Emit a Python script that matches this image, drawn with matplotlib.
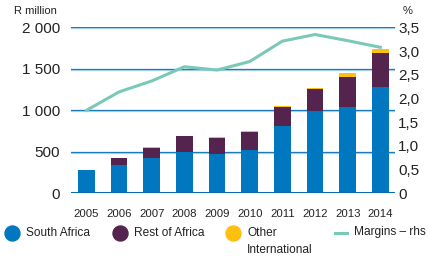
import numpy as np
import matplotlib.pyplot as plt
from matplotlib.lines import Line2D

plt.rcParams['font.family'] = ['Liberation Sans', 'DejaVu Sans']

years = ['2005', '2006', '2007', '2008', '2009', '2010', '2011', '2012', '2013', '2014']
south_africa = [280, 340, 425, 495, 477, 522, 811, 990, 1039, 1280]
rest_of_africa = [0, 85, 125, 195, 193, 216, 229, 266, 361, 414]
other_intl = [5, 5, 5, 0, 10, 12, 10, 12, 50, 44]
margins = [1.75, 2.14, 2.37, 2.67, 2.60, 2.78, 3.21, 3.35, 3.22, 3.08]

left_ticks = [0, 500, 1000, 1500, 2000]
left_labels = ['0', '500', '1 000', '1 500', '2 000']
right_ticks = [0, 0.5, 1.0, 1.5, 2.0, 2.5, 3.0, 3.5]
right_labels = ['0', '0,5', '1,0', '1,5', '2,0', '2,5', '3,0', '3,5']

c_sa = '#0077be'
c_roa = '#55244e'
c_oth = '#fdc010'
c_mar = '#7ac9b7'
c_grid = '#0a6db3'
c_grid2 = '#9fcdeb'

fig = plt.figure(figsize=(4.29, 2.56), dpi=100)
ax = fig.add_axes([0.1655, 0.245, 0.756, 0.648])
x = np.arange(len(years))

# grid lines: dark line with a light line just below
for t in left_ticks[1:]:
    ax.axhline(t, color=c_grid, lw=0.9, zorder=1)
    ax.axhline(t - 9, color=c_grid2, lw=0.9, zorder=1)
ax.axhline(0, color=c_grid, lw=2.2, zorder=4)

w = 0.51
ax.bar(x, south_africa, w, color=c_sa, zorder=2)
ax.bar(x, rest_of_africa, w, bottom=south_africa, color=c_roa, zorder=2)
bot2 = np.array(south_africa) + np.array(rest_of_africa)
ax.bar(x, other_intl, w, bottom=bot2, color=c_oth, zorder=2)

ax.set_xlim(-0.475, 9.46)
ax.set_ylim(0, 2000)
ax.set_yticks(left_ticks)
ax.set_yticklabels(left_labels, fontsize=11, color='#222222')
ax.set_xticks(x)
ax.set_xticklabels(years, fontsize=8.2, color='#222222')
ax.tick_params(axis='both', length=0)
ax.tick_params(axis='y', pad=8)
ax.tick_params(axis='x', pad=11)
for s in ax.spines.values():
    s.set_visible(False)

ax2 = ax.twinx()
ax2.plot(x, margins, color=c_mar, lw=2.2, zorder=3)
ax2.set_ylim(0, 3.5)
ax2.set_yticks(right_ticks)
ax2.set_yticklabels(right_labels, fontsize=11, color='#222222')
ax2.tick_params(axis='y', length=0, pad=2)
for s in ax2.spines.values():
    s.set_visible(False)
ax2.set_xlim(-0.475, 9.46)

fig.text(14 / 429, 1 - 11 / 256, 'R million', fontsize=8, color='#222222', va='center', ha='left')
fig.text(403 / 429, 1 - 11 / 256, '%', fontsize=8, color='#222222', va='center', ha='left')

# legend
ly = 1 - 232.5 / 256
fs = 8.6
items = [(12, c_sa, 'South Africa'), (120, c_roa, 'Rest of Africa'), (233, c_oth, 'Other')]
for px, col, lab in items:
    fig.add_artist(Line2D([px / 429], [ly], marker='o', markersize=10.8, color=col, lw=0))
    fig.text((px + 14) / 429, ly, lab, fontsize=fs, color='#222222', va='center', ha='left')
fig.text(247 / 429, 1 - 250 / 256, 'International', fontsize=fs, color='#222222', va='center', ha='left')
fig.add_artist(Line2D([335 / 429, 347 / 429], [ly, ly], color=c_mar, lw=2.2))
fig.text(354 / 429, ly, 'Margins – rhs', fontsize=fs, color='#222222', va='center', ha='left')

fig.savefig('out.png', dpi=100)
